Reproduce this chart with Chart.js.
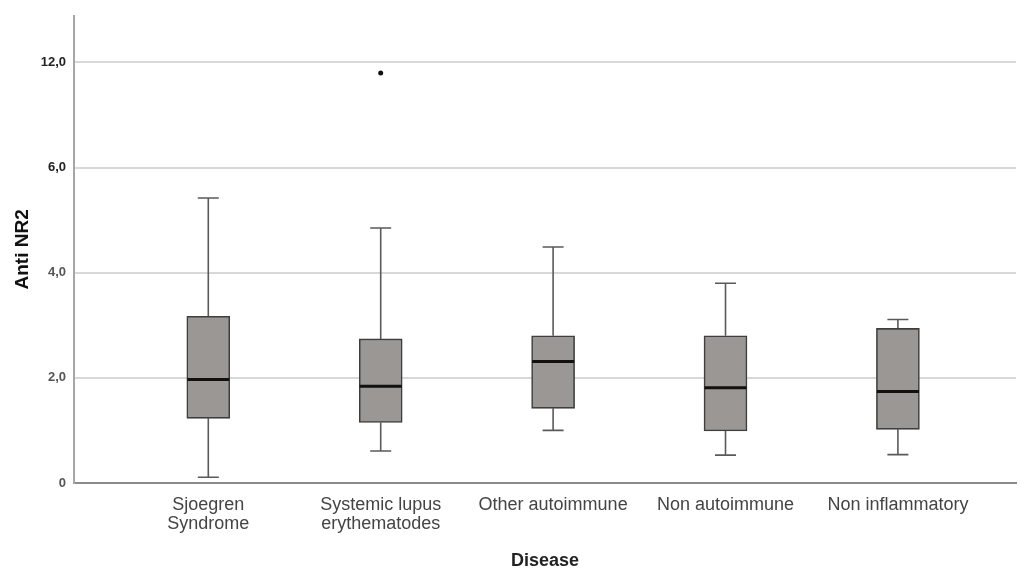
<!DOCTYPE html>
<html>
<head>
<meta charset="utf-8">
<script src="https://cdn.jsdelivr.net/npm/chart.js@4.4.1/dist/chart.umd.min.js"></script>
<style>
  html, body { margin: 0; padding: 0; background: #fff; }
  #wrap { width: 1020px; height: 570px; }
</style>
</head>
<body>
<div id="wrap"><canvas id="boxChart"></canvas></div>
<script>
// values (Anti NR2 per disease group)
const categories = [['Sjoegren', 'Syndrome'], ['Systemic lupus', 'erythematodes'], 'Other autoimmune', 'Non autoimmune', 'Non inflammatory'];
const whiskerLow = [0.11, 0.61, 1.00, 0.53, 0.54];
const q1 = [1.23, 1.15, 1.42, 0.99, 1.02];
const median = [1.97, 1.84, 2.31, 1.81, 1.74];
const q3 = [3.17, 2.74, 2.80, 2.80, 2.94];
const whiskerHigh = [5.42, 4.85, 4.49, 3.80, 3.11];
const outlierGroup = [1];
const outlierValue = [11.4];
const yTickValues = [0, 2, 4, 6, 12];
const yTickLabels = ['0', '2,0', '4,0', '6,0', '12,0'];

// the axis is broken: 0-6 in steps of 2, then 6-12 in one step
function tf(v) {
  return v <= 6 ? v / 2 : 3 + (v - 6) / 6;
}

const boxData = categories.map((c, i) => ({ x: i, y: [tf(q1[i]), tf(q3[i])] }));
const outlierData = outlierGroup.map((g, i) => ({ x: g, y: tf(outlierValue[i]) }));

const whiskerPlugin = {
  id: 'whiskers',
  beforeDatasetsDraw(chart) {
    const ctx = chart.ctx;
    const xs = chart.scales.x, ys = chart.scales.y;
    ctx.save();
    ctx.strokeStyle = '#5a5a5a';
    ctx.lineWidth = 1.6;
    categories.forEach((c, i) => {
      const x = xs.getPixelForValue(i);
      const top = ys.getPixelForValue(tf(whiskerHigh[i]));
      const bot = ys.getPixelForValue(tf(whiskerLow[i]));
      const b1 = ys.getPixelForValue(tf(q3[i]));
      const b2 = ys.getPixelForValue(tf(q1[i]));
      ctx.beginPath();
      ctx.moveTo(x, b1); ctx.lineTo(x, top);
      ctx.moveTo(x - 10.5, top); ctx.lineTo(x + 10.5, top);
      ctx.moveTo(x, b2); ctx.lineTo(x, bot);
      ctx.moveTo(x - 10.5, bot); ctx.lineTo(x + 10.5, bot);
      ctx.stroke();
    });
    ctx.restore();
  },
  afterDatasetsDraw(chart) {
    const ctx = chart.ctx;
    const xs = chart.scales.x, ys = chart.scales.y;
    ctx.save();
    ctx.strokeStyle = '#111';
    ctx.lineWidth = 3;
    categories.forEach((c, i) => {
      const x = xs.getPixelForValue(i);
      const y = ys.getPixelForValue(tf(median[i]));
      ctx.beginPath();
      ctx.moveTo(x - 21, y); ctx.lineTo(x + 21, y);
      ctx.stroke();
    });
    ctx.restore();
  }
};

new Chart(document.getElementById('boxChart').getContext('2d'), {
  type: 'bar',
  data: {
    datasets: [{
      label: 'Box',
      data: boxData,
      backgroundColor: '#9b9794',
      borderColor: '#3e3e3e',
      borderWidth: 1.6,
      borderSkipped: false,
      barThickness: 43
    }, {
      type: 'scatter',
      label: 'Outlier',
      data: outlierData,
      pointRadius: 2.5,
      pointBackgroundColor: '#111',
      pointBorderWidth: 0
    }]
  },
  options: {
    responsive: true,
    maintainAspectRatio: false,
    animation: false,
    layout: { padding: { top: 15, right: 0, bottom: 0, left: 0 } },
    plugins: {
      legend: { display: false },
      tooltip: { enabled: false }
    },
    scales: {
      x: {
        type: 'linear',
        offset: false,
        min: -0.779,
        max: 4.685,
        afterBuildTicks: (s) => { s.ticks = categories.map((c, i) => ({ value: i })); },
        afterFit: (s) => { s.height = 87; },
        grid: { display: false, drawTicks: false, offset: false },
        border: { color: '#8c8c8c', width: 2 },
        ticks: {
          padding: 13,
          maxRotation: 0,
          autoSkip: false,
          color: '#444',
          font: { family: 'Liberation Sans, Arial, sans-serif', size: 18, lineHeight: 1.05 },
          callback: (v) => categories[v]
        },
        title: {
          display: true,
          text: 'Disease',
          color: '#222',
          padding: { top: 0, bottom: 0 },
          font: { family: 'Liberation Sans, Arial, sans-serif', size: 18, weight: 'bold', lineHeight: 1.0 }
        }
      },
      y: {
        min: 0,
        max: 4.443,
        afterBuildTicks: (s) => { s.ticks = yTickValues.map(v => ({ value: tf(v) })); },
        afterFit: (s) => { s.width = 74; },
        grid: { color: '#d8d8d8', lineWidth: 2, drawTicks: false },
        border: { color: '#a6a6a6', width: 2 },
        ticks: {
          padding: 8,
          color: (c) => c.index >= 3 ? '#222' : '#555',
          font: { family: 'Liberation Sans, Arial, sans-serif', size: 13, weight: 'bold' },
          callback: (v, i) => yTickLabels[i]
        },
        title: {
          display: true,
          text: 'Anti NR2',
          color: '#111',
          padding: { top: 13, bottom: 0 },
          font: { family: 'Liberation Sans, Arial, sans-serif', size: 19, weight: 'bold', lineHeight: 1.0 }
        }
      }
    }
  },
  plugins: [whiskerPlugin]
});
</script>
</body>
</html>
